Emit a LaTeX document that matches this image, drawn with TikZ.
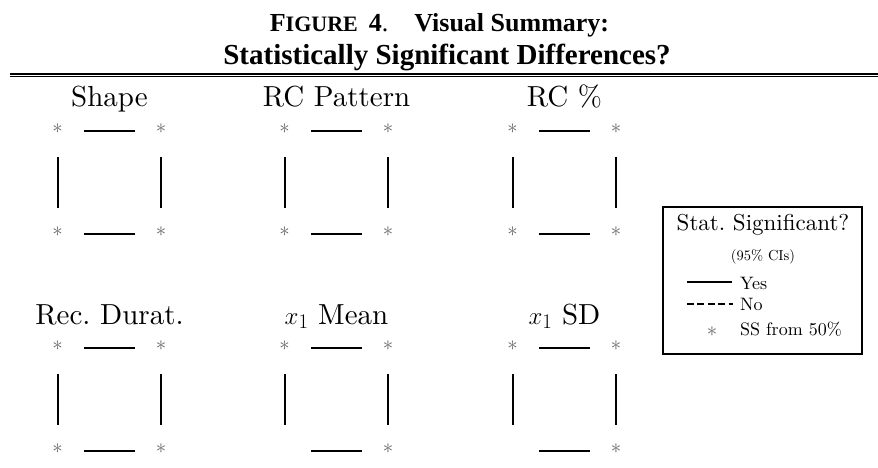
\documentclass[tikz,border=0pt]{standalone}
\usepackage{fontspec}
\setmainfont{lmroman10-regular.otf}
\newfontfamily\timesfont{Liberation Serif}
\begin{document}
\begin{tikzpicture}[x=1pt,y=-1pt,
  ssline/.style={line width=1.8pt},
  nsline/.style={line width=1.5pt, dash pattern=on 7pt off 3.4pt},
  star/.style={text=black!60, inner sep=0pt, font=\fontsize{20}{20}\selectfont},
  ptitle/.style={anchor=base, inner sep=0pt, font=\fontsize{29}{30}\selectfont},
  ftitle/.style={anchor=base, inner sep=0pt, font=\timesfont\bfseries},
  legtext/.style={anchor=base west, inner sep=0pt, font=\fontsize{18}{19}\selectfont},
]
\useasboundingbox (0,0) rectangle (878,468);

% heading
\node[ftitle] (h1) at (439.5,32) {\fontsize{26}{27}\selectfont F{\fontsize{22}{24}\selectfont IGURE}\hspace{11pt}4{\mdseries.}\hspace{26pt}Visual Summary:};
\node[ftitle] (h2) at (447,65) {\fontsize{29}{30}\selectfont Statistically Significant Differences?};
\coordinate (r1a) at (10,73.8); \coordinate (r1b) at (878,73.8);
\coordinate (r2a) at (10,76.9); \coordinate (r2b) at (878,76.9);
\draw[line width=2.4pt] (r1a) -- (r1b);
\draw[line width=1pt] (r2a) -- (r2b);

\newcommand\mypanel[5]{%
 \begin{scope}[shift={(#2,#3)}]
  \node[ptitle] (#1t) at (109.5,107) {#4};
  \node[star] (#1s1) at (57.5,129) {$\ast$};
  \node[star] (#1s2) at (161,129) {$\ast$};
  \ifnum#5=1 \node[star] (#1s3) at (57.5,232) {$\ast$};\fi
  \node[star] (#1s4) at (161,232) {$\ast$};
  \coordinate (#1ta) at (84,131); \coordinate (#1tb) at (135,131);
  \coordinate (#1ba) at (84,234); \coordinate (#1bb) at (135,234);
  \coordinate (#1la) at (58,157); \coordinate (#1lb) at (58,208);
  \coordinate (#1ra) at (161,157); \coordinate (#1rb) at (161,208);
  \draw[ssline] (#1ta) -- (#1tb);
  \draw[ssline] (#1ba) -- (#1bb);
  \draw[ssline] (#1la) -- (#1lb);
  \draw[ssline] (#1ra) -- (#1rb);
 \end{scope}}

\mypanel{pa}{0}{0}{Shape}{1}
\mypanel{pb}{227}{0}{RC Pattern}{1}
\mypanel{pc}{455}{0}{RC \%}{1}
\mypanel{pd}{0}{217}{Rec.\ Durat.}{1}
\mypanel{pe}{227}{217}{$x_1$ Mean}{0}
\mypanel{pf}{455}{217}{$x_1$ SD}{0}

% legend
\node[draw, line width=1.5pt, minimum width=199pt, minimum height=147pt, inner sep=0pt] (leg) at (762.5,280.5) {};
\node[anchor=base, inner sep=0pt, font=\fontsize{23}{24}\selectfont] (lt) at (763,230) {Stat.\ Significant?};
\node[inner sep=0pt, font=\fontsize{14.5}{15}\selectfont] (lci) at (763,256.5) {(95\% CIs)};
\coordinate (ya) at (687,282); \coordinate (yb) at (732,282);
\draw[ssline] (ya) -- (yb);
\node[legtext] (ly) at (740,289) {Yes};
\coordinate (na) at (687,304); \coordinate (nb) at (733,304);
\draw[nsline] (na) -- (nb);
\node[legtext] (ln) at (740,310) {No};
\node[star] (ls) at (712,332) {$\ast$};
\node[legtext] (lss) at (740,335) {SS from 50\%};
\end{tikzpicture}
\end{document}
